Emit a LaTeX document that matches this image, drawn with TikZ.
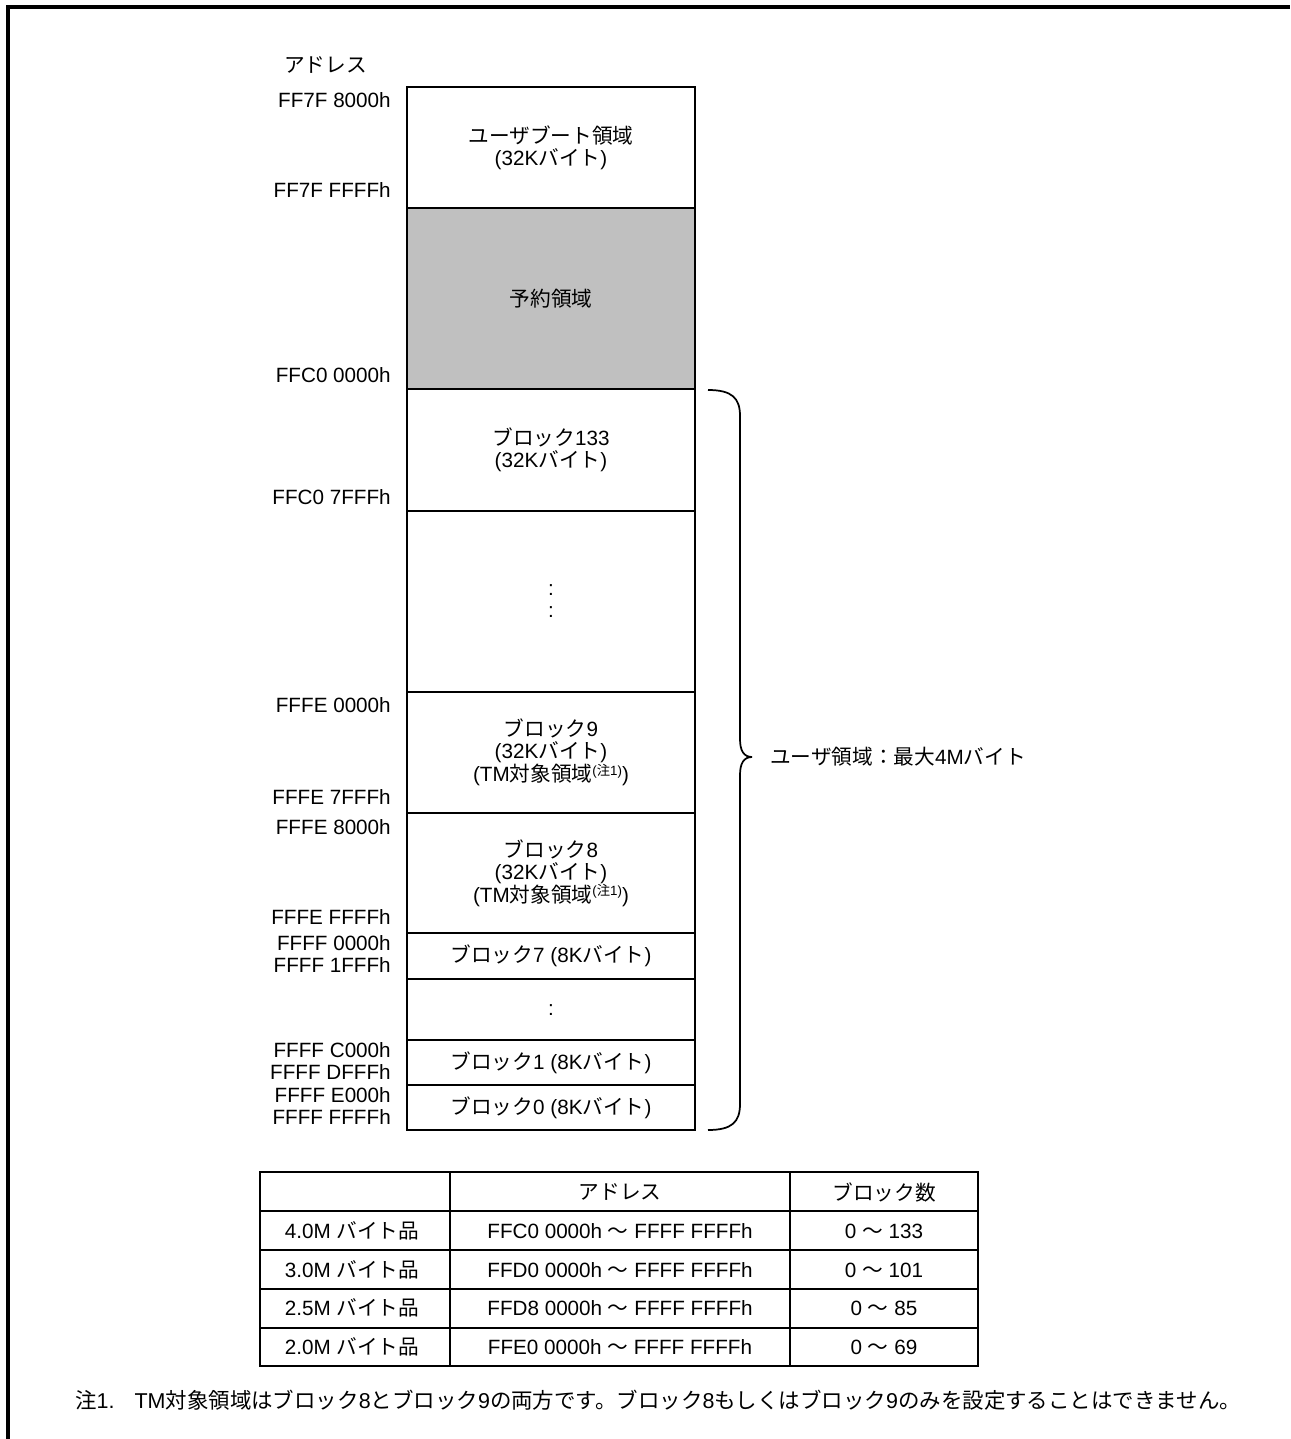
\documentclass[tikz,border=0pt]{standalone}
\usepackage{fontspec}
\setmainfont{Liberation Sans}
\newfontfamily\jpfont{Noto Sans CJK JP}
\newcommand\jt[1]{{\jpfont #1}}
\newcommand\mainsz{\fontsize{15.5}{16.5}\selectfont}
\newcommand\notesup{\raisebox{0.6ex}{\fontsize{10}{10}\selectfont(\jt{注}1)}}
\newcommand\wave{\jt{～}}
\definecolor{rsvgray}{RGB}{192,192,192}
\begin{document}
\begin{tikzpicture}[x=0.75pt,y=-0.75pt, font=\mainsz,
  blk/.style={draw, line width=1.3pt, minimum width=216pt, inner sep=0pt, align=center},
  addr/.style={anchor=east, inner sep=0pt},
  lbl/.style={inner sep=0pt},
  tline/.style={line width=1.1pt},
  tframe/.style={line width=1.9pt},
  bracestyle/.style={line width=1.3pt}]
\useasboundingbox (0,0) rectangle (1290,1439);
\draw[line width=2.4pt] (8,1439) -- (8,7) -- (1290,7);

% header
\node[lbl, anchor=west] (hdr) at (284,65) {\jt{アドレス}};

% memory blocks
\node[blk, minimum height=90.75pt] (boot) at (551,147.5) {\jt{ユーザブート領域}\\(32K\jt{バイト})};
\node[blk, fill=rsvgray, minimum height=135.75pt] (rsv) at (551,298.5) {\jt{予約領域}};
\node[blk, minimum height=91.5pt] (b133) at (551,450) {\jt{ブロック}133\\(32K\jt{バイト})};
\node[blk, minimum height=135.75pt] (gap1) at (551,601.5) {};
\node[lbl] (d1) at (551,590.5) {:};
\node[lbl] (d2) at (551,612.5) {:};
\node[blk, minimum height=90.75pt] (b9) at (551,752.5) {\jt{ブロック}9\\(32K\jt{バイト})\\(TM\jt{対象領域}\notesup)};
\node[blk, minimum height=90pt] (b8) at (551,873) {\jt{ブロック}8\\(32K\jt{バイト})\\(TM\jt{対象領域}\notesup)};
\node[blk, minimum height=34.5pt] (b7) at (551,956) {\jt{ブロック}7 (8K\jt{バイト})};
\node[blk, minimum height=45.75pt] (gap2) at (551,1009.5) {};
\node[lbl] (d3) at (551,1010) {:};
\node[blk, minimum height=33.75pt] (b1) at (551,1062.5) {\jt{ブロック}1 (8K\jt{バイト})};
\node[blk, minimum height=33.75pt] (b0) at (551,1107.5) {\jt{ブロック}0 (8K\jt{バイト})};

% addresses
\node[addr] (a1) at (391,100) {FF7F 8000h};
\node[addr] (a2) at (391,190) {FF7F FFFFh};
\node[addr] (a3) at (391,375) {FFC0 0000h};
\node[addr] (a4) at (391,497) {FFC0 7FFFh};
\node[addr] (a5) at (391,705) {FFFE 0000h};
\node[addr] (a6) at (391,797) {FFFE 7FFFh};
\node[addr] (a7) at (391,827) {FFFE 8000h};
\node[addr] (a8) at (391,917) {FFFE FFFFh};
\node[addr] (a9) at (391,943) {FFFF 0000h};
\node[addr] (a10) at (391,965) {FFFF 1FFFh};
\node[addr] (a11) at (391,1050) {FFFF C000h};
\node[addr] (a12) at (391,1072) {FFFF DFFFh};
\node[addr] (a13) at (391,1095) {FFFF E000h};
\node[addr] (a14) at (391,1117) {FFFF FFFFh};

% brace
\draw[bracestyle] (708,390) .. controls (732,390) and (740,398) .. (740,416)
  -- (740,739) .. controls (740,751) and (744,757) .. (752,757)
  .. controls (744,757) and (740,763) .. (740,775)
  -- (740,1104) .. controls (740,1122) and (732,1130) .. (708,1130);
\node[lbl, anchor=west] (user) at (770,757) {\jt{ユーザ領域：最大}4M\jt{バイト}};

% table
\draw[tframe] (260,1172) rectangle (978,1366);
\draw[tline] (260,1211) -- (978,1211);
\draw[tline] (260,1250) -- (978,1250);
\draw[tline] (260,1289) -- (978,1289);
\draw[tline] (260,1328) -- (978,1328);
\draw[tline] (450,1172) -- (450,1366);
\draw[tline] (790,1172) -- (790,1366);
\node[lbl] (th2) at (620,1192) {\jt{アドレス}};
\node[lbl] (th3) at (884,1192) {\jt{ブロック数}};
\node[lbl] (r1a) at (352,1231) {4.0M \jt{バイト品}};
\node[lbl] (r1b) at (620,1231) {FFC0 0000h \wave{} FFFF FFFFh};
\node[lbl] (r1c) at (884,1231) {0 \wave{} 133};
\node[lbl] (r2a) at (352,1270) {3.0M \jt{バイト品}};
\node[lbl] (r2b) at (620,1270) {FFD0 0000h \wave{} FFFF FFFFh};
\node[lbl] (r2c) at (884,1270) {0 \wave{} 101};
\node[lbl] (r3a) at (352,1308) {2.5M \jt{バイト品}};
\node[lbl] (r3b) at (620,1308) {FFD8 0000h \wave{} FFFF FFFFh};
\node[lbl] (r3c) at (884,1308) {0 \wave{} 85};
\node[lbl] (r4a) at (352,1347) {2.0M \jt{バイト品}};
\node[lbl] (r4b) at (620,1347) {FFE0 0000h \wave{} FFFF FFFFh};
\node[lbl] (r4c) at (884,1347) {0 \wave{} 69};

% note
\node[lbl, anchor=west, font=\fontsize{16.1}{17}\selectfont] (note) at (75,1400) {\jt{注}1.\hspace{15pt}TM\jt{対象領域はブロック}8\jt{とブロック}9\jt{の両方です。ブロック}8\jt{もしくはブロック}9\jt{のみを設定することはできません。}};
\end{tikzpicture}
\end{document}
